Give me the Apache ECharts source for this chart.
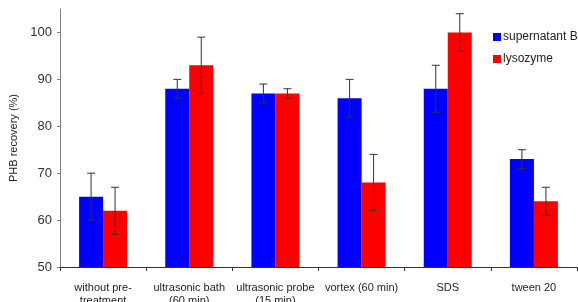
<!DOCTYPE html>
<html>
<head>
<meta charset="utf-8">
<script src="https://cdn.jsdelivr.net/npm/echarts@6/dist/echarts.min.js"></script>
<style>
  html, body { margin: 0; padding: 0; background: #fff; }
  #chart { width: 578px; height: 302px; }
</style>
</head>
<body>
<div id="chart"></div>
<script>
var categories = [
  "without pre-\ntreatment",
  "ultrasonic bath\n(60 min)",
  "ultrasonic probe\n(15 min)",
  "vortex (60 min)",
  "SDS",
  "tween 20"
];
var supernatantB = [65, 88, 87, 86, 88, 73];
var supernatantErr = [5, 2, 2, 4, 5, 2];
var lysozyme = [62, 93, 87, 68, 100, 64];
var lysozymeErr = [5, 6, 1, 6, 4, 3];
var yTicks = { min: 50, max: 105, interval: 10 };

var barWidth = 24;

// error bars drawn as custom series, shifted onto the left / right bar
function errorSeries(values, errs, side) {
  var data = values.map(function (v, i) { return [i, v - errs[i], v + errs[i]]; });
  return {
    type: "custom",
    silent: true,
    z: 10,
    data: data,
    renderItem: function (params, api) {
      var lo = api.coord([api.value(0), api.value(1)]);
      var hi = api.coord([api.value(0), api.value(2)]);
      var x = lo[0] + side * barWidth / 2;
      var cap = 4;
      var style = { stroke: "#333", lineWidth: 1 };
      return {
        type: "group",
        children: [
          { type: "line", shape: { x1: x, y1: hi[1], x2: x, y2: lo[1] }, style: style },
          { type: "line", shape: { x1: x - cap, y1: hi[1], x2: x + cap, y2: hi[1] }, style: style },
          { type: "line", shape: { x1: x - cap, y1: lo[1], x2: x + cap, y2: lo[1] }, style: style }
        ]
      };
    }
  };
}

var myChart = echarts.init(document.getElementById("chart"));
var option = {
  animation: false,
  textStyle: { fontFamily: "Liberation Sans, Arial, sans-serif" },
  grid: { left: 60, right: 1, top: 9, bottom: 35, containLabel: false, outerBoundsMode: "none" },
  legend: {
    orient: "vertical",
    left: 488,
    top: 26,
    itemWidth: 8,
    itemHeight: 8,
    itemGap: 10,
    icon: "rect",
    textStyle: { fontSize: 12, color: "#222", padding: [0, 0, 0, -3] },
    data: ["supernatant B", "lysozyme"]
  },
  xAxis: {
    type: "category",
    data: categories,
    axisLine: { lineStyle: { color: "#333" } },
    axisTick: { show: true, alignWithLabel: false, length: 4, lineStyle: { color: "#333" } },
    axisLabel: { color: "#222", fontSize: 11, lineHeight: 13, margin: 14, interval: 0 }
  },
  yAxis: {
    type: "value",
    min: yTicks.min,
    max: yTicks.max,
    interval: yTicks.interval,
    name: "PHB recovery (%)",
    nameLocation: "middle",
    nameGap: 40,
    nameTextStyle: { fontSize: 11, color: "#222" },
    axisLine: { show: true, lineStyle: { color: "#808080" } },
    axisTick: { show: true, length: 3, lineStyle: { color: "#808080" } },
    axisLabel: { color: "#333", fontSize: 13, margin: 8, showMaxLabel: false },
    splitLine: { show: false }
  },
  series: [
    {
      name: "supernatant B",
      type: "bar",
      barWidth: barWidth,
      barGap: "0%",
      itemStyle: { color: "#0000ff" },
      data: supernatantB
    },
    {
      name: "lysozyme",
      type: "bar",
      barWidth: barWidth,
      barGap: "0%",
      itemStyle: { color: "#ff0000" },
      data: lysozyme
    },
    errorSeries(supernatantB, supernatantErr, -1),
    errorSeries(lysozyme, lysozymeErr, 1)
  ]
};
myChart.setOption(option);
</script>
</body>
</html>
